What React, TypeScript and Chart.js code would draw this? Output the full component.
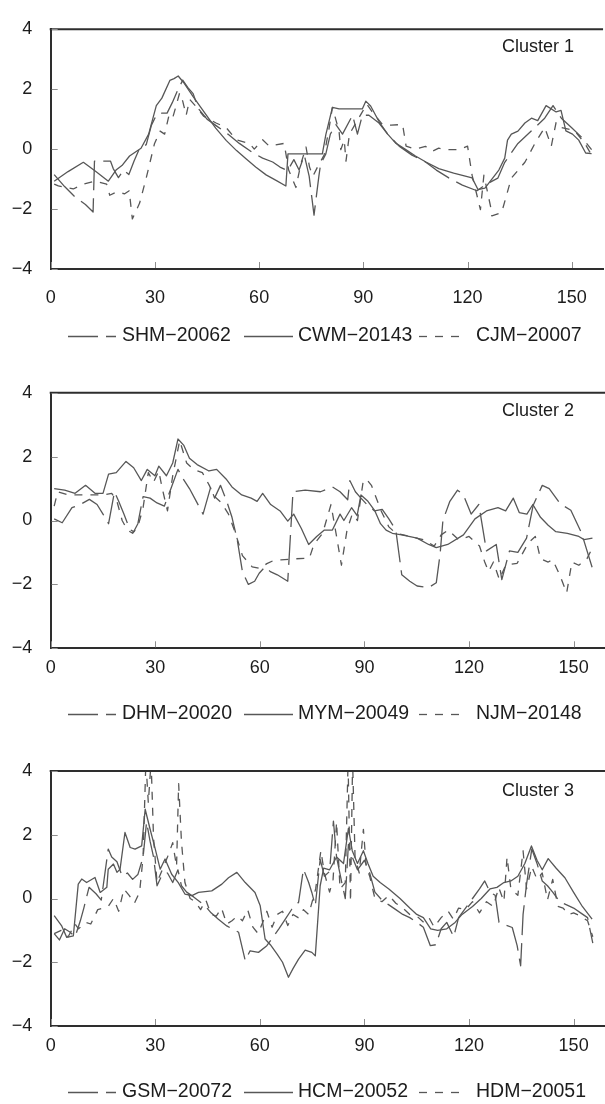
import { useEffect, useRef } from "react";
import { Chart, registerables } from "chart.js";

Chart.register(...registerables);

type Pt = [number, number];

// ---- axes ----
const X_MIN = 0;
const X_MAX = 159;
const X_STEP = 30;
const Y_MIN = -4;
const Y_MAX = 4;
const Y_STEP = 2;

// ---- Cluster 1 ----
const cluster1Names = ["SHM-20062", "CWM-20143", "CJM-20007"];
const shm20062: Pt[] = [
  [1, -0.85], [4, -1.25], [7, -1.6], [10, -1.85], [12.2, -2.1], [12.6, -0.4], [17.2, -0.4], [18, -0.65],
  [19.5, -0.95], [21, -0.7], [22.5, -0.85], [24, -0.4], [25.5, 0.0], [27.5, 0.15], [29, 0.8], [30.5, 1.15],
  [32, 1.2], [33.5, 1.2], [35, 1.55], [36.5, 1.95], [38, 2.3], [39.5, 2.05], [41, 1.85], [42.5, 1.35],
  [45, 1.0], [48, 0.75], [51, 0.5], [54.3, 0.19], [58.2, -0.12], [61, -0.3], [63.9, -0.43], [66, -0.6],
  [68.2, -0.72], [70, -0.35], [71.5, -0.7], [73, -0.2], [74.4, -0.9], [75.8, -2.2], [77.2, -0.9], [77.7, -0.5],
  [79.2, -0.16], [80.5, 0.5], [82.1, 0.82], [84, 0.5], [86.9, 1.13], [88.3, 0.5], [89.7, 1.13], [91.6, 1.13],
  [94.5, 0.87], [97, 0.5], [100.3, 0.1], [104, -0.2], [107.9, -0.43], [111, -0.7], [114.6, -0.96], [118.5, -1.2],
  [122.7, -1.39], [125, -1.2], [128.7, -0.97], [130.7, -0.44], [134.5, 0.19], [138.4, 0.61], [142.2, 1.03],
  [144.6, 1.45], [147, 1.03], [149.9, 0.72], [152.8, 0.4], [155.7, -0.02],
];
const cwm20143: Pt[] = [
  [1, -1.07], [5, -0.75], [9.4, -0.44], [13, -0.75], [16.6, -1.07], [18.8, -0.7], [20.5, -0.55], [22.7, -0.23],
  [26, 0.03], [28.2, 0.5], [30.4, 1.45], [32, 1.7], [34.3, 2.29], [35.5, 2.35], [36.7, 2.44], [38.2, 2.23],
  [41, 1.75], [44.8, 1.13], [47.5, 0.7], [50.5, 0.29], [53.5, -0.05], [56.3, -0.33], [59, -0.6], [62, -0.86],
  [65, -1.05], [67.7, -1.23], [68.3, -0.16], [78.2, -0.16], [79.2, 0.48], [81.1, 1.39], [83, 1.34], [85.9, 1.34],
  [89.7, 1.34], [90.7, 1.6], [92.1, 1.44], [94.5, 0.92], [97, 0.5], [99.3, 0.2], [102, 0.0], [105, -0.23],
  [108, -0.43], [111.7, -0.65], [116, -0.8], [121.3, -0.96], [123, -1.35], [125, -1.3], [127, -1.0], [129, -0.7],
  [130.7, -0.3], [131.5, 0.3], [132.6, 0.5], [134.5, 0.6], [136.5, 0.87], [138.4, 1.03], [140.2, 0.95],
  [142.6, 1.45], [145.5, 1.24], [146.9, 1.29], [148.3, 0.61], [150.2, 0.5], [152, 0.3], [154, -0.13], [155.7, -0.15],
];
const cjm20007: Pt[] = [
  [1, -1.17], [2.2, -1.23], [6.5, -1.33], [9.4, -1.17], [12.7, -1.07], [16.1, -1.17], [17, -1.54], [18.9, -1.43],
  [21.3, -1.49], [22.6, -1.39], [23.5, -2.33], [25.6, -1.8], [27.5, -0.96], [29.9, 0.19], [31.5, 0.6], [32.8, 0.5],
  [34, 1.1], [35, 1.0], [36, 1.4], [37.1, 1.87], [38, 1.6], [39, 1.13], [40, 1.66], [42, 1.4], [44, 1.1],
  [47.6, 0.87], [50.5, 0.72], [53.4, 0.31], [57.2, 0.19], [58.6, 0.0], [61, 0.31], [62.9, 0.1], [67.2, 0.19],
  [68.5, -0.7], [70.6, -1.28], [72, -0.5], [73.5, 0.07], [74.5, -0.6], [75.5, -0.9], [76.8, -0.6], [78.7, -0.2],
  [80, 0.6], [81.1, 1.39], [83, 0.6], [83.5, -0.02], [84.5, 0.3], [85, -0.4], [86, 0.5], [87.5, 0.8], [89.5, 1.2],
  [91, 1.5], [92.5, 1.25], [95.5, 0.82], [98, 0.8], [101.3, 0.82], [102.3, 0.1], [105, 0.0], [107.9, 0.09],
  [109.9, -0.07], [111.7, 0.03], [114, -0.02], [117.5, -0.02], [120, 0.1], [121.3, -0.87], [123.7, -2.02],
  [124.7, -0.87], [126.6, -1.9], [127, -2.23], [129.8, -2.12], [132.6, -0.97], [136.5, -0.44], [139.4, 0.19],
  [142.2, 0.72], [144.1, 0.1], [145.5, 0.9], [147, 0.72], [150.8, 0.62], [153.7, 0.2], [155.7, -0.2],
];

// ---- Cluster 2 ----
const cluster2Names = ["DHM-20020", "MYM-20049", "NJM-20148"];
const dhm20020: Pt[] = [
  [1, 0.05], [3.3, -0.07], [6.1, 0.4], [8.5, 0.5], [11.1, 0.66], [13.3, 0.5], [15, 0.2], [16.6, -0.1],
  [18.3, 0.9], [19.5, 0.6], [21, 0.2], [22.7, -0.28], [23.8, -0.35], [25, -0.1], [26.5, 0.75], [28.5, 0.7],
  [30.5, 0.55], [32.6, 0.45], [34.5, 1.0], [36.5, 1.6], [38, 1.3], [39.8, 1.0], [42, 0.55], [43.7, 0.2],
  [45.9, 1.05], [47, 0.7], [48.7, 1.1], [50.5, 0.6], [52, 0.1], [53.5, -0.6], [55, -1.6], [56.7, -2.0],
  [58.5, -1.9], [59.8, -1.65], [61.5, -1.45], [63, -1.6], [65, -1.7], [68, -1.9], [69.5, 0.9], [73, 0.95],
  [77.4, 0.9], [80.8, 1.05], [83, 0.9], [85.2, 0.65], [85.8, 1.25], [87.4, 0.9], [89, 0.7], [90.7, 0.5],
  [92.9, 0.3], [95.1, 0.35], [97, 0.05], [99, -0.3], [100.7, -1.7], [103, -1.9], [105.1, -2.05], [108.4, -2.1],
  [110.6, -1.95], [111.7, -1.05], [112.5, 0.0], [114.5, 0.6], [116.7, 0.95], [118.4, 0.8], [120.6, 0.2],
  [122.8, 0.5], [125, -0.95], [127.8, -0.75], [129.4, -1.85], [131.6, -0.95], [134, -1.0], [136.5, -0.55],
  [138.4, 0.48], [141, 1.1], [143, 1.0], [146.1, 0.53], [149.2, 0.32], [152.3, -0.4], [155.4, -1.5],
];
const mym20049: Pt[] = [
  [1, 1.0], [4, 0.95], [7, 0.85], [10, 1.1], [12.7, 0.85], [15, 0.85], [16.6, 1.45], [18.8, 1.5], [21.6, 1.85],
  [23.8, 1.65], [26, 1.25], [27.7, 1.6], [29.9, 1.4], [31, 1.7], [33.2, 1.4], [35, 1.8], [36.5, 2.55],
  [38.2, 2.35], [39.8, 1.95], [42, 1.75], [45.4, 1.55], [47.6, 1.6], [50.3, 1.3], [52, 1.05], [54.8, 0.8],
  [57.5, 0.7], [59.2, 0.6], [60.8, 0.85], [63.1, 0.5], [65.8, 0.3], [68, -0.02], [69.7, 0.2], [71.9, -0.25],
  [74, -0.75], [76.3, -0.5], [78.5, -0.3], [80.8, -0.3], [83, 0.2], [84.1, 0.0], [86.3, 0.4], [87.9, 0.15],
  [89, 0.8], [91, 0.6], [93, 0.3], [94.6, -0.1], [96.2, -0.3], [98, -0.4], [100.7, -0.45], [105.1, -0.55],
  [108.4, -0.75], [110.6, -0.85], [113.9, -0.75], [118.4, -0.45], [121.7, 0.05], [125, 0.3], [128.3, 0.4],
  [130.5, 0.3], [132.7, 0.7], [134.4, 0.25], [136.6, 0.2], [138.3, 0.5], [140.5, 0.1], [142.7, -0.15],
  [144.9, -0.35], [148.2, -0.4], [151.5, -0.5], [153, -0.6], [155.4, -0.55],
];
const njm20148: Pt[] = [
  [1, 0.45], [2, 0.9], [5, 0.8], [10, 0.8], [15, 0.8], [17.5, 0.85], [19, 0.6], [20.5, 0.0], [22, -0.3],
  [23.5, -0.4], [25, -0.2], [26.5, 0.4], [28, 1.5], [29.5, 1.2], [31, 1.55], [32, 1.0], [33.5, 0.3], [35, 1.4],
  [37, 2.5], [39, 1.8], [41, 1.6], [43.5, 1.5], [45.5, 1.1], [47, 0.75], [49, 0.55], [51, 0.2], [53, -0.4],
  [55, -1.1], [57.8, -1.45], [60, -1.5], [62, -1.35], [64, -1.25], [66, -1.23], [70, -1.2], [74.2, -1.18],
  [75.5, -0.75], [78, -0.4], [80.4, 0.5], [82, -0.5], [83.4, -1.4], [85, -0.3], [86.5, 0.2], [88, 0.0],
  [89.6, 1.2], [90.5, 1.3], [92, 1.1], [94.8, 0.3], [97, -0.2], [99, -0.4], [103, -0.5], [107, -0.6],
  [110, -0.8], [112, -0.45], [114, -0.3], [117, -0.6], [120, -0.5], [123, -0.8], [124.5, -1.3], [125.6, -1.6],
  [127, -1.3], [128.7, -1.85], [130.5, -1.4], [133.8, -1.34], [135, -1.1], [137, -0.7], [139, -0.5],
  [140.5, -1.2], [142.7, -1.3], [144, -1.23], [146, -1.7], [148, -2.27], [149.5, -1.3], [151.5, -1.4],
  [153.8, -1.2], [155.4, -0.85],
];

// ---- Cluster 3 ----
const cluster3Names = ["GSM-20072", "HCM-20052", "HDM-20051"];
const gsm20072: Pt[] = [
  [1, -1.1], [2.5, -1.3], [4, -0.95], [5.5, -1.05], [7, -1.2], [8.5, -0.7], [9.5, -0.3], [11, 0.35], [13, 0.15],
  [14.5, -0.05], [16.5, 1.55], [17.5, 1.3], [19, 1.15], [20.5, 0.7], [22, 0.8], [23.5, 0.6], [25, 0.75],
  [26.5, 1.3], [27.5, 2.4], [28.5, 1.8], [29.5, 1.3], [30.5, 0.4], [32, 0.75], [33.5, 0.8], [35, 0.5],
  [36.5, 0.9], [37.5, 0.4], [39, 0.2], [41, 0.05], [44.3, -0.23], [46, -0.45], [48.1, -0.65], [50.5, -0.86],
  [53.9, -1.06], [55.8, -1.95], [57.2, -1.64], [59.6, -1.69], [62, -1.48], [63.4, -1.27], [65.4, -0.96],
  [67.3, -0.65], [69.2, -0.33], [71.1, -0.12], [72.5, 0.92], [74, 0.5], [74.9, 0.19], [75.9, -0.23],
  [77.3, 1.23], [78.5, 0.7], [80, 0.85], [81.1, 2.43], [82, 1.3], [83.5, 0.5], [84.5, 0.0], [85.4, 1.7],
  [86.5, 1.3], [88, 0.9], [90, 1.2], [91.5, 0.8], [93, 0.2], [95, -0.05], [97, -0.2], [99, -0.35], [101, -0.5],
  [103, -0.6], [105, -0.75], [106.9, -0.9], [108.9, -1.48], [110.5, -1.45], [112, -0.95], [113.6, -0.75],
  [115.6, -1.2], [117, -0.6], [119, -0.3], [121, 0.0], [123, 0.3], [124.5, 0.55], [126, 0.2], [127.5, 0.1],
  [128.6, -0.75], [132.4, -0.91], [133.8, -1.48], [134.8, -2.11], [135.5, -0.5], [136.5, 0.45], [138, 1.55],
  [139.5, 1.1], [141, 0.55], [142.5, 0.4], [144, 0.2], [146, -0.1], [148, -0.2], [150, -0.3], [152, -0.45],
  [154, -0.6], [155.5, -1.4],
];
const hcm20052: Pt[] = [
  [1, -0.54], [3.1, -0.85], [4.6, -1.22], [6.5, -1.17], [7.9, 0.45], [8.9, 0.61], [10.3, 0.5], [12.7, 0.66],
  [14.2, 0.19], [16.1, 0.35], [16.5, 0.92], [18, 1.08], [19, 0.82], [19.9, 0.92], [21.3, 2.07], [22.8, 1.6],
  [24.2, 1.55], [26.1, 1.65], [27.1, 2.8], [28.5, 2.18], [30, 1.55], [31.4, 0.92], [32.8, 1.24], [34.7, 0.76],
  [36.6, 0.5], [38.5, 0.14], [40.5, 0.09], [42.4, 0.19], [46.2, 0.24], [49.1, 0.45], [51, 0.65], [53.4, 0.82],
  [55.8, 0.5], [58.6, 0.19], [60.1, -0.23], [61.5, -1.27], [63, -1.45], [65, -1.75], [66.5, -2.0], [68.2, -2.47],
  [69.5, -2.2], [71.1, -1.9], [73, -1.62], [74.9, -1.69], [75.9, -1.8], [77.3, 0.4], [78.3, 0.95], [80, 0.9],
  [82, 1.3], [84, 1.1], [85.4, 2.2], [86.5, 1.5], [88, 1.1], [89.7, 1.5], [91, 1.1], [92.5, 0.7], [94.5, 0.5],
  [97, 0.3], [100.2, 0.0], [103, -0.3], [105, -0.5], [106.9, -0.6], [109, -0.95], [111, -1.0], [113.6, -0.95],
  [116, -0.75], [118, -0.5], [121, -0.25], [123.5, 0.0], [126, 0.3], [128, 0.35], [130, 0.5], [132, 0.55],
  [134, 0.7], [136, 1.1], [137.9, 1.65], [139.5, 1.2], [141, 0.9], [142.7, 1.25], [145, 0.95], [147.5, 0.65],
  [150, 0.19], [152.5, -0.25], [155.3, -0.65],
];
const hdm20051: Pt[] = [
  [1, -1.1], [3, -1.0], [5, -1.2], [7, -0.8], [8, -0.95], [10, -0.75], [11.5, -0.8], [13.5, -0.35], [15, -0.3],
  [16.5, -0.25], [18, 0.0], [19.5, -0.4], [21, 0.3], [22.5, 0.1], [24, -0.15], [25.5, 0.2], [26.5, 1.3],
  [27.3, 4.3], [28, 3.0], [28.8, 4.3], [29.5, 1.9], [30.5, 0.5], [32, 0.9], [33.5, 1.3], [35, 1.75], [36.1, 1.0],
  [36.7, 3.6], [37.5, 1.8], [38.5, 0.5], [40, 0.0], [41.5, -0.1], [43, -0.35], [44.5, -0.05], [46, -0.5],
  [47.5, -0.55], [49, -0.3], [50.5, -0.8], [52, -0.7], [53.5, -0.55], [55, -0.7], [56.5, -0.35], [58, -0.9],
  [59.5, -1.1], [61, -0.7], [62, -0.4], [63.5, -0.9], [65, -0.5], [66.5, -0.4], [68, -0.85], [69.5, -0.5],
  [71, -0.6], [72.5, -0.35], [74, -0.5], [76, 0.3], [77.5, 1.5], [78.5, 0.8], [80, 0.2], [81, 0.6], [82, 2.4],
  [83, 0.3], [84.5, 0.5], [85.3, 4.3], [86, -0.1], [86.6, 4.3], [87.3, 1.3], [88.5, 0.8], [89.7, 2.17],
  [90.5, 1.0], [91.5, 0.7], [93, 0.0], [95, -0.1], [97, 0.1], [99, -0.15], [101, -0.3], [103, -0.5],
  [105, -0.55], [107, -0.75], [108.5, -0.6], [110, -0.9], [112, -0.6], [114, -0.4], [115.5, -0.65], [117, -0.3],
  [119, -0.35], [121, -0.1], [123, -0.45], [125, -0.1], [127, -0.25], [128.5, 0.35], [130, -0.1], [130.9, 1.3],
  [132, 0.3], [134, 0.1], [135.5, 1.5], [136.5, 0.3], [138, 1.0], [139.5, 0.6], [141, 0.8], [142.5, -0.05],
  [144, 0.6], [145.5, -0.25], [147, -0.3], [148.5, -0.5], [150, -0.45], [152, -0.55], [154, -0.7], [155.5, -1.2],
];

// ---- styling ----
const FONT = "'Liberation Sans', Arial, Helvetica, sans-serif";
const INK = "#1c1c1c";
const FRAME = "#2e2e2e";
const LINE = "#575757";
// long dash, solid, short dash (one per legend slot)
const DASHES: number[][] = [[30, 8], [], [8, 8]];
const LEGEND_SAMPLE_X = [68, 244, 419];
const LEGEND_SAMPLE_W = [48, 49, 44];
const LEGEND_TEXT_X = [122, 298, 476];

const minusFmt = (v: number) => (v < 0 ? "\u2212" + Math.abs(v) : String(v));

interface PanelLayout {
  top: number;
  height: number;
  padTop: number;
  padBottom: number;
  tickPad: number;
  legendY: number;
  titleDy: number;
}

interface PanelProps {
  title: string;
  names: string[];
  series: Pt[][];
  layout: PanelLayout;
}

const decorPlugin = {
  id: "panelDecor",
  afterDraw(chart: any, _args: unknown, opts: any) {
    const { ctx, chartArea: a } = chart;
    const xs = chart.scales.x;
    const ys = chart.scales.y;
    ctx.save();

    // top edge of the frame
    ctx.strokeStyle = FRAME;
    ctx.lineWidth = 2;
    ctx.beginPath();
    ctx.moveTo(a.left - 1, a.top);
    ctx.lineTo(a.right, a.top);
    ctx.stroke();

    // inward tick marks
    ctx.strokeStyle = "#8e8e8e";
    ctx.lineWidth = 1;
    ctx.beginPath();
    xs.ticks.forEach((t: any) => {
      const px = Math.round(xs.getPixelForValue(t.value)) + 0.5;
      ctx.moveTo(px, a.bottom - 1);
      ctx.lineTo(px, a.bottom - 7);
    });
    ys.ticks.forEach((t: any) => {
      const py = Math.round(ys.getPixelForValue(t.value)) + 0.5;
      ctx.moveTo(a.left + 1, py);
      ctx.lineTo(a.left + 7, py);
    });
    ctx.stroke();

    // panel title
    ctx.fillStyle = INK;
    ctx.font = `18px ${FONT}`;
    ctx.textAlign = "right";
    ctx.textBaseline = "middle";
    ctx.fillText(opts.title, 574, a.top + opts.titleDy);

    // legend row
    ctx.textAlign = "left";
    ctx.font = `19.5px ${FONT}`;
    chart.data.datasets.forEach((ds: any, i: number) => {
      const y = Math.round(opts.legendY) + 0.5;
      ctx.strokeStyle = LINE;
      ctx.lineWidth = 1.3;
      ctx.setLineDash(ds.borderDash || []);
      ctx.beginPath();
      ctx.moveTo(LEGEND_SAMPLE_X[i], y);
      ctx.lineTo(LEGEND_SAMPLE_X[i] + LEGEND_SAMPLE_W[i], y);
      ctx.stroke();
      ctx.setLineDash([]);
      ctx.fillStyle = INK;
      ctx.fillText(ds.label.replace("-", "\u2212"), LEGEND_TEXT_X[i], opts.legendY);
    });
    ctx.restore();
  },
};

function Panel({ title, names, series, layout }: PanelProps) {
  const ref = useRef<HTMLCanvasElement | null>(null);

  useEffect(() => {
    if (!ref.current) return;
    const chart = new Chart(ref.current, {
      type: "line",
      data: {
        datasets: series.map((pts, i) => ({
          label: names[i],
          data: pts.map(([x, y]) => ({ x, y })),
          borderColor: LINE,
          borderWidth: 1.3,
          borderDash: DASHES[i],
          borderJoinStyle: "round" as const,
          pointRadius: 0,
          pointHoverRadius: 0,
          fill: false,
          tension: 0,
        })),
      },
      options: {
        responsive: false,
        animation: false,
        devicePixelRatio: 1,
        events: [],
        layout: { padding: { top: layout.padTop, bottom: layout.padBottom, left: 0, right: 0 } },
        plugins: {
          legend: { display: false },
          tooltip: { enabled: false },
          panelDecor: { title, legendY: layout.legendY, titleDy: layout.titleDy },
        } as any,
        scales: {
          x: {
            type: "linear",
            min: X_MIN,
            max: X_MAX,
            grid: { display: false, drawTicks: false },
            border: { display: true, color: FRAME, width: 2 },
            ticks: {
              stepSize: X_STEP,
              includeBounds: false,
              autoSkip: false,
              maxRotation: 0,
              padding: layout.tickPad,
              color: INK,
              font: { family: FONT, size: 18 },
            },
            afterFit: (s: any) => {
              s.height = 40;
            },
          },
          y: {
            type: "linear",
            min: Y_MIN,
            max: Y_MAX,
            grid: { display: false, drawTicks: false },
            border: { display: true, color: FRAME, width: 2 },
            ticks: {
              stepSize: Y_STEP,
              padding: 18.4,
              color: INK,
              font: { family: FONT, size: 18 },
              callback: (v: any) => minusFmt(Number(v)),
            },
            afterFit: (s: any) => {
              s.width = 50.7;
            },
          },
        },
      },
      plugins: [decorPlugin],
    });
    return () => chart.destroy();
  }, [title, names, series, layout]);

  return (
    <canvas
      ref={ref}
      width={605}
      height={layout.height}
      style={{ position: "absolute", left: 0, top: layout.top, width: 605, height: layout.height }}
    />
  );
}

const layouts: PanelLayout[] = [
  { top: 0, height: 355, padTop: 15, padBottom: 46, tickPad: 18.2, legendY: 336, titleDy: 18.3 },
  { top: 355, height: 370, padTop: 37.7, padBottom: 36.7, tickPad: 8.9, legendY: 359, titleDy: 18.3 },
  { top: 725, height: 379, padTop: 46, padBottom: 38, tickPad: 9.2, legendY: 367, titleDy: 19.7 },
];

const panels = [
  { title: "Cluster 1", names: cluster1Names, series: [shm20062, cwm20143, cjm20007] },
  { title: "Cluster 2", names: cluster2Names, series: [dhm20020, mym20049, njm20148] },
  { title: "Cluster 3", names: cluster3Names, series: [gsm20072, hcm20052, hdm20051] },
];

export default function App() {
  return (
    <div style={{ position: "fixed", left: 0, top: 0, width: 605, height: 1104, background: "#fff", overflow: "hidden" }}>
      {panels.map((p, i) => (
        <Panel key={p.title} title={p.title} names={p.names} series={p.series} layout={layouts[i]} />
      ))}
    </div>
  );
}
